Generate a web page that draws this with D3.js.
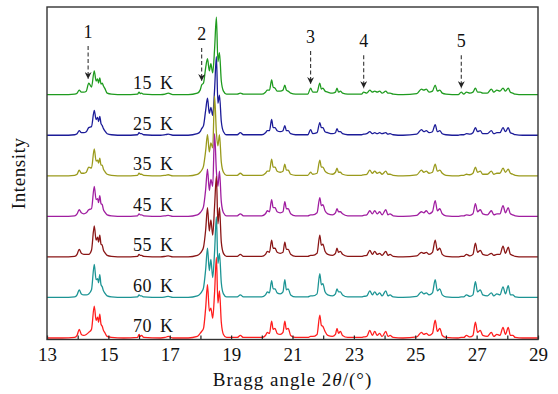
<!DOCTYPE html>
<html>
<head>
<meta charset="utf-8">
<script src="https://cdn.jsdelivr.net/npm/d3@7/dist/d3.min.js"></script>
<style>
  html, body { margin: 0; padding: 0; background: #fff; }
  svg { display: block; }
</style>
</head>
<body>
<svg id="chart" width="558" height="394"></svg>
<script>
// Diffraction angle grid (degrees 2θ) shared by all temperature traces
const twoTheta = [
  13.00, 13.50, 13.90, 13.98, 14.05, 14.12, 14.20, 14.28, 14.36, 14.45,
  14.54, 14.60, 14.65, 14.68, 14.72, 14.76, 14.80, 14.84, 14.88, 14.96,
  15.10, 15.50, 15.95, 16.00, 16.04, 16.08, 16.15, 16.70, 16.85, 16.95,
  17.10, 17.60, 17.90, 17.99, 18.04, 18.10, 18.17, 18.23, 18.29, 18.34,
  18.40, 18.46, 18.52, 18.57, 18.62, 18.68, 18.75, 18.85, 19.20, 19.30,
  19.40, 20.00, 20.12, 20.18, 20.25, 20.32, 20.37, 20.43, 20.50, 20.60,
  20.69, 20.75, 20.80, 20.86, 20.94, 21.10, 21.50, 21.59, 21.66, 21.80,
  21.89, 21.94, 21.99, 22.06, 22.15, 22.30, 22.40, 22.45, 22.50, 22.56,
  22.63, 22.80, 23.25, 23.32, 23.42, 23.52, 23.60, 23.68, 23.76, 23.84,
  23.92, 24.04, 24.11, 24.18, 24.28, 24.60, 25.05, 25.20, 25.28, 25.36,
  25.45, 25.56, 25.65, 25.72, 25.80, 25.88, 26.00, 26.40, 26.50, 26.58,
  26.67, 26.78, 26.88, 26.96, 27.03, 27.12, 27.20, 27.35, 27.48, 27.56,
  27.66, 27.76, 27.86, 27.94, 28.03, 28.10, 28.18, 28.26, 28.50, 29.00
];

// Intensity of each trace above its own baseline (arbitrary units)
const intensity15K = [
  0.5, 0.5, 1, 2, 5, 3, 3, 4, 12, 8,
  24, 14, 16, 12, 17, 11, 12, 9, 7, 2,
  1, 0.5, 1, 3, 1.5, 2, 1, 0.5, 1, 2,
  0.5, 0.5, 2, 5, 10, 12, 27, 36, 24, 31,
  22, 45, 77, 33, 42, 14, 4, 1, 1, 2,
  1, 1, 3, 5, 5, 15, 8, 7, 4, 4,
  5, 10, 5, 4, 2, 1, 1, 7, 3, 3,
  12, 6, 7, 4, 3, 2, 3, 7, 3, 4,
  2, 1, 1, 3, 2, 5, 3, 4, 3, 4,
  2, 4, 2, 2, 1, 0.5, 1.5, 6, 5, 6,
  3, 4, 10, 4, 5, 2, 1, 0.5, 3, 1,
  3, 2, 3, 7, 3, 3, 2, 2, 6, 3,
  5, 4, 7, 4, 7, 3, 2, 1, 0.5, 0.5
];
const intensity25K = [
  0.5, 0.5, 1, 2, 5, 3, 3, 4, 8, 9,
  25, 16, 18, 14, 19, 12, 10, 7, 5, 2,
  1, 0.5, 1, 3, 2, 2, 1, 0.5, 1, 1.5,
  0.5, 0.5, 2, 4, 7, 10, 25, 37, 22, 28,
  20, 45, 78, 32, 40, 14, 4, 1, 1, 3,
  1, 1, 3, 5, 5, 16, 8, 8, 5, 4,
  5, 10, 5, 5, 2, 1, 1, 6, 2, 3,
  13, 8, 8, 4, 3, 2, 3, 7, 4, 4,
  2, 1, 1, 1.5, 2, 4, 2, 3, 2, 3,
  2, 3, 1.5, 2, 1, 0.5, 1.5, 6, 4, 5,
  3, 4, 11, 4, 5, 2, 1, 0.5, 1, 1,
  2, 1.5, 3, 8, 4, 5, 2, 2, 5, 2,
  3, 3, 8, 4, 8, 3, 2, 1, 0.5, 0.5
];
const intensity35K = [
  0.5, 0.5, 1, 2, 6, 3, 3, 4, 9, 8,
  27, 15, 16, 13, 18, 11, 11, 7, 5, 2,
  1, 0.5, 1, 3, 2, 2, 1, 0.5, 1, 1.5,
  0.5, 0.5, 2, 4, 6, 10, 25, 41, 24, 33,
  28, 79, 43, 30, 41, 14, 4, 1, 1, 3,
  1, 1, 3, 5, 5, 17, 9, 9, 5, 4,
  5, 12, 6, 6, 2, 1, 1, 4, 2, 3,
  16, 9, 9, 5, 3, 2, 4, 8, 4, 4,
  2, 1, 1, 1.5, 2, 6, 3, 5, 3, 4,
  2, 5, 2, 2, 1, 0.5, 1.5, 6, 4, 5,
  3, 4, 12, 5, 6, 3, 1, 0.5, 1, 1,
  2, 1.5, 3, 9, 4, 5, 2, 2, 5, 2,
  3, 3, 8, 4, 7, 3, 2, 1, 0.5, 0.5
];
const intensity45K = [
  0.5, 0.5, 1, 3, 7, 4, 3, 4, 7, 8,
  30, 17, 18, 14, 21, 13, 12, 7, 5, 2,
  1, 0.5, 1, 3, 2, 2, 1, 0.5, 1, 1.5,
  0.5, 0.5, 2, 4, 6, 10, 27, 47, 26, 37,
  30, 82, 45, 30, 45, 15, 4, 1, 1, 3,
  1, 1, 3, 6, 5, 17, 9, 9, 5, 4,
  5, 15, 8, 8, 3, 1, 1, 2, 2, 4,
  19, 11, 12, 6, 3, 2, 4, 8, 5, 5,
  3, 1, 1, 1.5, 2, 6, 3, 6, 3, 5,
  2, 7, 2, 3, 1, 0.5, 1.5, 5, 4, 6,
  3, 5, 16, 6, 8, 3, 1, 0.5, 1, 1,
  2, 1.5, 3, 13, 5, 7, 3, 2, 6, 2,
  3, 3, 11, 4, 9, 3, 2, 1, 0.5, 0.5
];
const intensity55K = [
  0.5, 0.5, 1, 3, 8, 4, 3, 3, 3, 7,
  31, 17, 20, 15, 22, 13, 12, 7, 5, 2,
  1, 0.5, 1, 3, 2, 2, 1, 0.5, 1, 1.5,
  0.5, 0.5, 2, 4, 6, 10, 27, 49, 26, 37,
  22, 50, 80, 33, 49, 15, 4, 1, 1, 3,
  1, 1, 3, 6, 5, 17, 9, 9, 5, 4,
  5, 15, 8, 8, 3, 1, 1, 2, 2, 4,
  22, 12, 13, 6, 3, 2, 4, 9, 5, 6,
  3, 1, 1, 1.5, 2, 7, 3, 6, 3, 4,
  2, 6, 2, 3, 1, 0.5, 1.5, 5, 4, 5,
  3, 5, 17, 7, 9, 3, 1, 0.5, 1, 1,
  3, 1.5, 3, 14, 5, 7, 3, 2, 4, 2,
  3, 3, 11, 4, 10, 3, 2, 1, 0.5, 0.5
];
const intensity60K = [
  0.5, 0.5, 1, 3, 8, 4, 3, 3, 4, 8,
  33, 18, 19, 15, 23, 13, 11, 7, 5, 2,
  1, 0.5, 1, 3, 2, 2, 1, 0.5, 1, 1.5,
  0.5, 0.5, 2, 4, 6, 10, 28, 49, 27, 38,
  20, 45, 80, 34, 44, 15, 4, 1, 1, 3,
  1, 1, 3, 6, 5, 17, 9, 9, 5, 4,
  6, 18, 8, 9, 3, 1, 1, 2, 2, 4,
  24, 13, 14, 6, 3, 2, 4, 9, 6, 6,
  3, 1, 1, 1.5, 2, 7, 3, 6, 3, 5,
  2, 7, 2, 3, 1, 0.5, 1.5, 6, 4, 5,
  3, 5, 18, 7, 9, 3, 1, 0.5, 1, 1,
  3, 1.5, 3, 16, 6, 8, 3, 2, 5, 2,
  4, 3, 11, 4, 12, 3, 3, 1, 0.5, 0.5
];
const intensity70K = [
  0.5, 0.5, 1, 3, 9, 4, 3, 4, 6, 9,
  32, 18, 21, 16, 24, 14, 12, 8, 6, 2,
  1, 0.5, 1, 4, 2, 3, 1, 0.5, 1, 2,
  0.5, 0.5, 2, 5, 7, 10, 30, 53, 27, 30,
  20, 45, 80, 35, 47, 16, 4, 1, 1, 3,
  1, 1, 3, 6, 5, 17, 9, 10, 5, 4,
  6, 17, 9, 10, 3, 1, 1, 2, 2, 4,
  23, 13, 12, 7, 3, 2, 4, 10, 5, 7,
  3, 1, 1, 1.5, 2, 8, 3, 7, 3, 5,
  2, 7, 2, 3, 1, 0.5, 1.5, 6, 4, 5,
  3, 5, 18, 7, 10, 3, 1, 0.5, 1, 1,
  3, 1.5, 3, 16, 6, 8, 3, 2, 6, 2,
  4, 3, 11, 4, 11, 3, 3, 1, 0.5, 0.5
];

// Temperature labels, top trace first
const temperatures = ["15 K", "25 K", "35 K", "45 K", "55 K", "60 K", "70 K"];
// Bottom-axis ticks (every degree) and the labelled ones
const xTicks = [13, 14, 15, 16, 17, 18, 19, 20, 21, 22, 23, 24, 25, 26, 27, 28, 29];
const xTickLabels = [13, 15, 17, 19, 21, 23, 25, 27, 29];
// Marked reflections on the 15 K trace
const markerLabels = ["1", "2", "3", "4", "5"];
const markerAngles = [14.34, 18.04, 21.59, 23.32, 26.50];

const seriesValues = [intensity15K, intensity25K, intensity35K, intensity45K,
                      intensity55K, intensity60K, intensity70K];
const colors = ["#1f9b1f", "#1c1c98", "#9a9a1c", "#a01ea0", "#8a1616", "#1c9494", "#ff1e1e"];
const stackStep = 40;   // vertical offset between neighbouring traces
const SERIF = "'Liberation Serif', 'DejaVu Serif', 'Times New Roman', serif";

const svg = d3.select("#chart");
const margin = { left: 47, right: 20, top: 7, bottom: 54.5 };
const W = 558, H = 394;

const x = d3.scaleLinear().domain([13, 29]).range([margin.left, W - margin.right]);
const y = d3.scaleLinear().domain([-1, 327]).range([H - margin.bottom, margin.top]);

const defs = svg.append("defs");
defs.append("clipPath").attr("id", "plotClip")
  .append("rect")
  .attr("x", x(13)).attr("y", y(327))
  .attr("width", x(29) - x(13)).attr("height", y(-1) - y(327));

// traces: drawn from the top trace down so lower traces sit in front
const nSeries = seriesValues.length;
const offsetOf = i => (nSeries - 1 - i) * stackStep;

const line = d3.line()
  .x(d => x(d[0]))
  .y(d => y(d[1]))
  .curve(d3.curveMonotoneX);

const traces = svg.append("g").attr("clip-path", "url(#plotClip)");
seriesValues.forEach((vals, i) => {
  const pts = twoTheta.map((t, k) => [t, vals[k] + offsetOf(i)]);
  traces.append("path")
    .attr("d", line(pts))
    .attr("fill", "none")
    .attr("stroke", colors[i])
    .attr("stroke-width", 1.3)
    .attr("stroke-linejoin", "round");
});

function label(sel) {
  return sel.style("font-family", SERIF).style("fill", "#111").style("font-size", "18px");
}

// temperature labels just above each baseline
temperatures.forEach((t, i) => {
  label(svg.append("text"))
    .attr("x", x(15.8))
    .attr("y", y(offsetOf(i)) - 6)
    .style("word-spacing", "3px")
    .style("letter-spacing", "0.5px")
    .text(t);
});

// dashed arrows marking reflections on the 15 K trace
defs.append("marker")
  .attr("id", "arrowHead")
  .attr("viewBox", "0 0 10 10")
  .attr("refX", 10).attr("refY", 5)
  .attr("markerWidth", 7).attr("markerHeight", 7)
  .attr("markerUnits", "userSpaceOnUse")
  .attr("orient", "auto")
  .append("path").attr("d", "M0,0 L10,5 L0,10 L3,5 Z").attr("fill", "#222");

markerAngles.forEach((a, j) => {
  const k = d3.bisectLeft(twoTheta, a);
  const tipY = y(intensity15K[k] + offsetOf(0)) - 4;
  const px = x(a);
  svg.append("line")
    .attr("x1", px).attr("x2", px)
    .attr("y1", tipY - 33).attr("y2", tipY)
    .attr("stroke", "#333").attr("stroke-width", 1.1)
    .attr("stroke-dasharray", "4,2.5")
    .attr("marker-end", "url(#arrowHead)");
  label(svg.append("text"))
    .attr("x", px).attr("y", tipY - 41)
    .attr("text-anchor", "middle")
    .text(markerLabels[j]);
});

// bottom axis with inward ticks
const xAxis = d3.axisBottom(x)
  .tickValues(xTicks)
  .tickSize(-4)
  .tickPadding(8)
  .tickFormat(d => xTickLabels.includes(d) ? String(d) : "");
const gx = svg.append("g").attr("transform", `translate(0,${y(-1)})`).call(xAxis);
gx.select(".domain").remove();
gx.selectAll(".tick line").attr("stroke", "#222").attr("stroke-width", 1.2);
label(gx.selectAll(".tick text")).style("font-size", "19px");

// frame
svg.append("rect")
  .attr("x", x(13)).attr("y", y(327))
  .attr("width", x(29) - x(13)).attr("height", y(-1) - y(327))
  .attr("fill", "none").attr("stroke", "#333").attr("stroke-width", 1.4);

// axis titles
const xt = label(svg.append("text"))
  .attr("x", (x(13) + x(29)) / 2)
  .attr("y", 386)
  .attr("text-anchor", "middle")
  .style("font-size", "19px")
  .style("letter-spacing", "1px");
xt.append("tspan").text("Bragg angle 2");
xt.append("tspan").style("font-style", "italic").text("θ");
xt.append("tspan").text("/(°)");

label(svg.append("text"))
  .attr("transform", `translate(25,${(y(-1) + y(327)) / 2}) rotate(-90)`)
  .attr("text-anchor", "middle")
  .style("font-size", "19px")
  .style("letter-spacing", "0.6px")
  .text("Intensity");
</script>
</body>
</html>
